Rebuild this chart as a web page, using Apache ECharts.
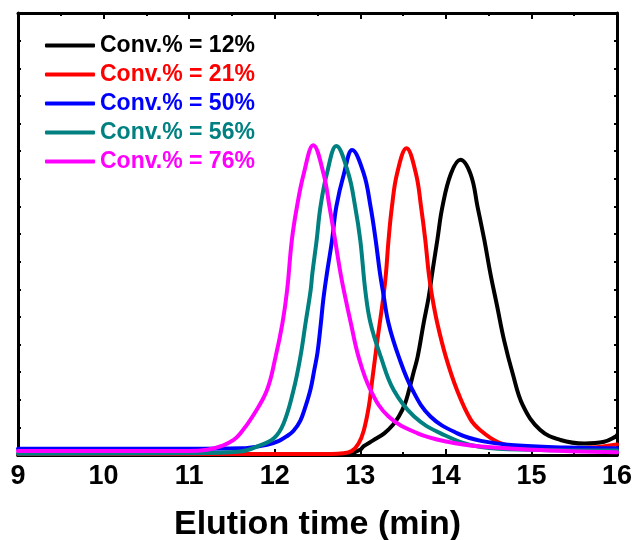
<!DOCTYPE html>
<html>
<head>
<meta charset="utf-8">
<script src="https://cdn.jsdelivr.net/npm/echarts@6/dist/echarts.min.js"></script>
<style>
  html, body { margin: 0; padding: 0; background: #fff; }
  #chart { width: 635px; height: 540px; }
</style>
</head>
<body>
<div id="chart"></div>
<script>
// SEC traces: elution time (min) and normalized detector response
const labels = ['Conv.% = 12%', 'Conv.% = 21%', 'Conv.% = 50%', 'Conv.% = 56%', 'Conv.% = 76%'];
const colors = ['#000000', '#ff0000', '#0000ff', '#008080', '#ff00ff'];

const t12 = [9, 12.5, 12.89, 13.0, 13.04, 13.15, 13.28, 13.38, 13.45, 13.52, 13.57, 13.62, 13.67, 13.74, 13.8, 13.84, 13.9, 13.96, 14.06, 14.17, 14.29, 14.37, 14.45, 14.52, 14.6, 14.68, 14.78, 14.9, 15.1, 15.34, 15.62, 15.85, 15.98, 16];
const y12 = [0, 0, 0.004, 0.012, 0.02, 0.033, 0.049, 0.068, 0.087, 0.115, 0.147, 0.185, 0.222, 0.298, 0.358, 0.411, 0.486, 0.562, 0.637, 0.668, 0.635, 0.562, 0.486, 0.411, 0.336, 0.26, 0.185, 0.112, 0.057, 0.034, 0.026, 0.03, 0.041, 0.045];

const t21 = [9, 11, 12.5, 12.8, 12.9, 12.98, 13.04, 13.1, 13.14, 13.2, 13.27, 13.3, 13.33, 13.37, 13.43, 13.54, 13.65, 13.71, 13.76, 13.8, 13.84, 13.9, 14.0, 14.13, 14.29, 14.41, 14.6, 14.8, 15.3, 15.7, 16];
const y21 = [0.002, 0.002, 0.002, 0.004, 0.009, 0.026, 0.055, 0.11, 0.17, 0.26, 0.358, 0.411, 0.486, 0.562, 0.637, 0.694, 0.637, 0.562, 0.486, 0.411, 0.358, 0.298, 0.222, 0.147, 0.08, 0.055, 0.03, 0.02, 0.015, 0.017, 0.024];

const t50 = [9, 10, 11, 11.6, 11.91, 12.05, 12.145, 12.22, 12.3, 12.36, 12.42, 12.46, 12.5, 12.535, 12.57, 12.61, 12.67, 12.72, 12.81, 12.905, 13.04, 13.12, 13.18, 13.23, 13.265, 13.33, 13.45, 13.61, 13.82, 14.135, 14.41, 14.8, 15.4, 16];
const y50 = [0.014, 0.014, 0.014, 0.015, 0.023, 0.032, 0.043, 0.055, 0.078, 0.11, 0.15, 0.19, 0.232, 0.29, 0.355, 0.411, 0.486, 0.562, 0.637, 0.69, 0.637, 0.562, 0.486, 0.411, 0.37, 0.298, 0.222, 0.147, 0.087, 0.049, 0.032, 0.022, 0.017, 0.015];

const t56 = [9, 11, 11.6, 11.79, 11.99, 12.105, 12.22, 12.3, 12.36, 12.42, 12.44, 12.49, 12.535, 12.61, 12.72, 12.86, 12.94, 13.0, 13.06, 13.12, 13.24, 13.39, 13.63, 13.94, 14.41, 15, 16];
const y56 = [0.003, 0.004, 0.008, 0.019, 0.038, 0.072, 0.147, 0.222, 0.298, 0.373, 0.411, 0.486, 0.562, 0.637, 0.699, 0.637, 0.562, 0.486, 0.37, 0.298, 0.222, 0.147, 0.087, 0.049, 0.018, 0.012, 0.01];

const t76 = [9, 11, 11.21, 11.4, 11.52, 11.6, 11.75, 11.91, 12.01, 12.09, 12.145, 12.2, 12.26, 12.34, 12.45, 12.57, 12.64, 12.71, 12.77, 12.81, 12.89, 12.98, 13.12, 13.33, 13.67, 14.02, 14.41, 15, 16];
const y76 = [0.009, 0.009, 0.012, 0.022, 0.034, 0.049, 0.09, 0.147, 0.222, 0.298, 0.373, 0.486, 0.562, 0.637, 0.701, 0.637, 0.562, 0.481, 0.41, 0.37, 0.298, 0.222, 0.147, 0.087, 0.049, 0.03, 0.019, 0.012, 0.006];

const xTicks = { min: 9, max: 16, step: 1 };

const traces = [[t12, y12], [t21, y21], [t50, y50], [t56, y56], [t76, y76]];
const pairs = (xs, ys) => xs.map((x, i) => [x, ys[i]]);

const font = '"Liberation Sans", Arial, sans-serif';

const frameAxis = {
  axisLine: { show: true, onZero: false, lineStyle: { color: '#000', width: 3 } },
  splitLine: { show: false }
};

const chart = echarts.init(document.getElementById('chart'), null, { renderer: 'canvas' });
chart.setOption({
  animation: false,
  backgroundColor: '#ffffff',
  grid: { left: 18, right: 18, top: 13, bottom: 85, containLabel: false, outerBoundsMode: 'none' },
  legend: {
    orient: 'vertical',
    left: 45,
    top: 34,
    padding: 0,
    itemGap: 6,
    itemWidth: 50,
    itemHeight: 4,
    icon: 'roundRect',
    textStyle: { fontFamily: font, fontWeight: 'bold', fontSize: 23, lineHeight: 23 },
    data: labels.map((name, i) => ({ name, textStyle: { color: colors[i] } }))
  },
  xAxis: [
    Object.assign({}, frameAxis, {
      type: 'value', position: 'bottom',
      min: xTicks.min, max: xTicks.max, interval: xTicks.step,
      axisTick: { show: true, inside: true, length: 6, lineStyle: { color: '#000', width: 2 } },
      minorTick: { show: true, splitNumber: 2, length: 3, lineStyle: { color: '#000', width: 2 } },
      axisLabel: { color: '#000', fontFamily: font, fontWeight: 'bold', fontSize: 27, margin: 8 },
      name: 'Elution time (min)',
      nameLocation: 'middle',
      nameGap: 53,
      nameTextStyle: { color: '#000', fontFamily: font, fontWeight: 'bold', fontSize: 34 }
    }),
    Object.assign({}, frameAxis, {
      type: 'value', position: 'top',
      min: xTicks.min, max: xTicks.max, interval: xTicks.step,
      axisTick: { show: true, inside: true, length: 6, lineStyle: { color: '#000', width: 2 } },
      minorTick: { show: true, splitNumber: 2, length: 3, lineStyle: { color: '#000', width: 2 } },
      axisLabel: { show: false }
    })
  ],
  yAxis: [
    Object.assign({}, frameAxis, {
      type: 'value', position: 'left', min: 0, max: 1, interval: 0.0625,
      axisTick: { show: true, inside: true, length: 3, lineStyle: { color: '#000', width: 2 } },
      axisLabel: { show: false }
    }),
    Object.assign({}, frameAxis, {
      type: 'value', position: 'right', min: 0, max: 1, interval: 0.0625,
      axisTick: { show: true, inside: true, length: 3, lineStyle: { color: '#000', width: 2 } },
      axisLabel: { show: false }
    })
  ],
  series: traces.map((tr, i) => ({
    name: labels[i],
    type: 'line',
    xAxisIndex: 0,
    yAxisIndex: 0,
    data: pairs(tr[0], tr[1]),
    showSymbol: false,
    symbol: 'none',
    smooth: 0.4,
    color: colors[i],
    lineStyle: { color: colors[i], width: 4, cap: 'round', join: 'round' },
    z: 2 + i
  }))
});
</script>
</body>
</html>
